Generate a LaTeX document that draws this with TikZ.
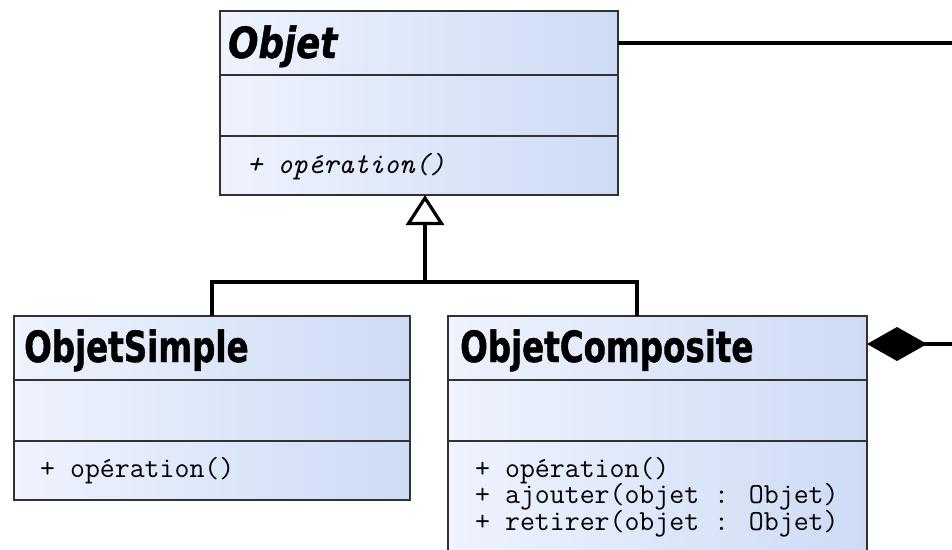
\documentclass[tikz,border=0pt]{standalone}
\usepackage{fontspec}
\usepackage{xcolor}
\usetikzlibrary{arrows.meta,positioning}
\newfontfamily\titlefont{DejaVu Sans Condensed Bold}[FakeStretch=0.84, FakeBold=1]
\newfontfamily\titleitfont{DejaVu Sans Condensed Bold Oblique}[FakeStretch=0.92, FakeBold=1]
\definecolor{umlblue}{RGB}{206,219,245}
\definecolor{umlpale}{RGB}{238,243,253}
\definecolor{umlline}{RGB}{50,50,50}

\tikzset{
  classbox/.style={draw=umlline, line width=1.4pt, left color=umlpale, right color=umlblue,
    minimum width=#1, inner sep=0pt, outer sep=0pt, anchor=north west},
  classname/.style={anchor=base west, inner sep=0pt, font=\titlefont\fontsize{43}{46}\selectfont},
  classop/.style={anchor=base west, inner sep=0pt, font=\ttfamily\fontsize{29}{30}\selectfont},
  conn/.style={line width=3.2pt, black},
}

\begin{document}
\begin{tikzpicture}[x=1pt, y=-1pt]
    \clip (0,0) rectangle (952,549);

    % Objet
    \node[classbox=398pt, minimum height=64pt] (objet) at (220,11) {};
    \node[classbox=398pt, minimum height=61pt] (objetAttr) at (objet.south west) {};
    \node[classbox=398pt, minimum height=59pt] (objetOps) at (objetAttr.south west) {};
    \node[classname, font=\titleitfont\fontsize{43}{46}\selectfont] (objetName)
        at ([xshift=8pt, yshift=-47pt]objet.north west) {Objet};
    \node[classop, font=\ttfamily\itshape\fontsize{29}{30}\selectfont] (objetOp)
        at ([xshift=27pt, yshift=-37pt]objetOps.north west) {+ opération()};

    % ObjetSimple
    \node[classbox=396pt, minimum height=64pt] (simple) at (14,316) {};
    \node[classbox=396pt, minimum height=61pt] (simpleAttr) at (simple.south west) {};
    \node[classbox=396pt, minimum height=59pt] (simpleOps) at (simpleAttr.south west) {};
    \node[classname] (simpleName) at ([xshift=10pt, yshift=-46pt]simple.north west) {ObjetSimple};
    \node[classop] (simpleOp) at ([xshift=26pt, yshift=-36pt]simpleOps.north west) {+ opération()};

    % ObjetComposite
    \node[classbox=419pt, minimum height=64pt] (composite) at (448,316) {};
    \node[classbox=419pt, minimum height=61pt] (compositeAttr) at (composite.south west) {};
    \node[classbox=419pt, minimum height=130pt] (compositeOps) at (compositeAttr.south west) {};
    \node[classname] (compositeName) at ([xshift=12pt, yshift=-46pt]composite.north west) {ObjetComposite};
    \foreach \op [count=\i] in {+ opération(), + ajouter(objet : Objet), + retirer(objet : Objet)}
        \node[classop] (compositeOp\i) at ([xshift=27pt, yshift=-36pt-26.5pt*(\i-1)]compositeOps.north west) {\op};

    % liens
    \coordinate (fork) at (425,282);
    \coordinate (objetLink) at (962,43);
    \coordinate (compLink) at (962,344);
    \draw[conn] (simple.north) |- (fork) -| ([xshift=-20.5pt]composite.north);
    \draw[conn, -{Triangle[open, length=30pt, width=38pt]}] (fork) -- (fork |- objetOps.south);
    \draw[conn] (objet.east) -- (objetLink);
    \draw[conn, {Diamond[length=60pt, width=34pt]}-] (compLink -| composite.east) -- (compLink);
\end{tikzpicture}
\end{document}
